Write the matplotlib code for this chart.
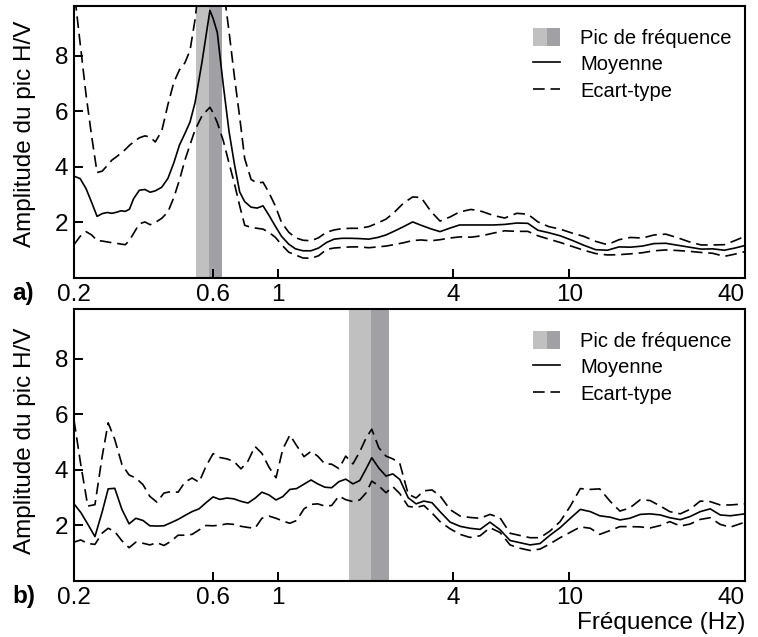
import matplotlib
matplotlib.use('Agg')
import matplotlib.pyplot as plt
from matplotlib.patches import Patch
from matplotlib.lines import Line2D
from matplotlib.legend_handler import HandlerTuple

plt.rcParams['font.family'] = ['Liberation Sans', 'DejaVu Sans']

# panel a) : frequences (Hz), moyenne et moyenne +/- ecart-type
freq_a = [0.20, 0.21, 0.22, 0.23, 0.24, 0.25, 0.26, 0.27, 0.28, 0.29,
          0.30, 0.31, 0.32, 0.335, 0.35, 0.365, 0.38, 0.40, 0.42, 0.44,
          0.46, 0.48, 0.50, 0.52, 0.55, 0.585, 0.60, 0.62, 0.65, 0.68,
          0.71, 0.74, 0.77, 0.81, 0.85, 0.89, 0.93, 0.98, 1.03, 1.09,
          1.15, 1.22, 1.30, 1.38, 1.47, 1.56, 1.66, 1.78, 1.90, 2.05,
          2.20, 2.35, 2.50, 2.70, 2.90, 3.10, 3.35, 3.60, 3.90, 4.20,
          4.60, 5.00, 5.50, 6.00, 6.60, 7.20, 7.80, 8.50, 9.30, 10.2,
          11.2, 12.3, 13.5, 14.8, 16.2, 17.8, 19.5, 21.4, 23.5, 25.8,
          28.3, 31.0, 34.0, 37.0, 40.0]
moy_a = [3.67, 3.58, 3.22, 2.72, 2.22, 2.32, 2.36, 2.33, 2.37, 2.42,
         2.40, 2.48, 2.85, 3.16, 3.19, 3.09, 3.14, 3.27, 3.59, 4.15,
         4.79, 5.20, 5.62, 6.31, 7.80, 9.64, 9.35, 8.85, 6.96, 5.30,
         4.10, 3.10, 2.75, 2.55, 2.52, 2.60, 2.28, 1.87, 1.50, 1.22,
         1.05, 0.98, 0.98, 1.08, 1.28, 1.40, 1.43, 1.43, 1.42, 1.40,
         1.46, 1.55, 1.68, 1.85, 2.02, 1.90, 1.77, 1.67, 1.80, 1.91,
         1.91, 1.91, 1.91, 1.93, 1.98, 1.97, 1.72, 1.63, 1.52, 1.36,
         1.18, 1.02, 1.00, 1.12, 1.11, 1.15, 1.24, 1.25, 1.18, 1.11,
         1.04, 1.05, 1.00, 1.08, 1.17]
sup_a = [10.4, 8.45, 6.6, 5.1, 3.8, 3.85, 4.05, 4.25, 4.37, 4.5,
         4.63, 4.78, 4.9, 5.05, 5.12, 5.08, 4.9, 5.3, 6.25, 7.05,
         7.5, 7.75, 8.2, 9.3, 11.5, 14.5, 14.5, 13.0, 10.5, 8.9,
         7.25, 5.8, 4.3, 3.55, 3.42, 3.45, 3.1, 2.6, 2.0, 1.65,
         1.45, 1.36, 1.34, 1.45, 1.65, 1.73, 1.78, 1.79, 1.79, 1.85,
         1.98, 2.12, 2.35, 2.7, 2.92, 2.9, 2.4, 2.05, 2.2, 2.38,
         2.47, 2.4, 2.25, 2.16, 2.33, 2.3, 2.02, 1.85, 1.76, 1.62,
         1.5, 1.32, 1.2, 1.38, 1.46, 1.44, 1.55, 1.58, 1.45, 1.30,
         1.19, 1.19, 1.20, 1.35, 1.50]
inf_a = [1.2, 1.5, 1.67, 1.55, 1.35, 1.33, 1.30, 1.27, 1.25, 1.22,
         1.2, 1.36, 1.6, 1.95, 2.02, 1.92, 2.0, 2.15, 2.38, 2.9,
         3.53, 4.24, 4.8, 5.33, 5.85, 6.15, 5.95, 5.6, 4.95, 4.15,
         3.4, 2.6, 1.9, 1.82, 1.79, 1.76, 1.65, 1.47, 1.2, 0.93,
         0.83, 0.72, 0.71, 0.80, 1.03, 1.08, 1.10, 1.12, 1.12, 1.09,
         1.12, 1.15, 1.2, 1.27, 1.35, 1.37, 1.34, 1.38, 1.44, 1.48,
         1.47, 1.52, 1.62, 1.70, 1.68, 1.68, 1.52, 1.40, 1.28, 1.14,
         1.0, 0.88, 0.83, 0.84, 0.87, 0.91, 0.98, 1.01, 0.99, 0.96,
         0.92, 0.89, 0.78, 0.86, 0.95]
pic_a = [0.524, 0.581, 0.642]   # debut, pic, fin

# panel b)
freq_b = [0.200, 0.211, 0.223, 0.236, 0.250, 0.262, 0.276, 0.292, 0.309, 0.326,
          0.345, 0.364, 0.385, 0.407, 0.430, 0.455, 0.480, 0.508, 0.537, 0.567,
          0.600, 0.633, 0.669, 0.707, 0.748, 0.790, 0.835, 0.882, 0.933, 0.986,
          1.04, 1.10, 1.16, 1.23, 1.30, 1.37, 1.45, 1.53, 1.62, 1.71,
          1.81, 1.91, 2.01, 2.10, 2.22, 2.35, 2.48, 2.62, 2.80, 2.98,
          3.17, 3.38, 3.60, 3.90, 4.22, 4.56, 4.94, 5.34, 5.78, 6.26,
          6.77, 7.33, 7.93, 8.58, 9.29, 10.05, 10.9, 11.8, 12.7, 13.8,
          14.9, 16.1, 17.5, 18.9, 20.5, 22.1, 24.0, 25.9, 28.1, 30.4,
          32.9, 35.6, 40.0]
moy_b = [2.78, 2.47, 2.05, 1.60, 2.5, 3.32, 3.34, 2.58, 2.06, 2.26,
         2.18, 1.99, 1.98, 1.99, 2.10, 2.22, 2.36, 2.50, 2.60, 2.82,
         3.03, 2.94, 2.99, 2.96, 2.87, 2.81, 2.98, 3.20, 3.10, 2.92,
         3.04, 3.30, 3.33, 3.49, 3.64, 3.50, 3.38, 3.36, 3.58, 3.67,
         3.50, 3.62, 4.05, 4.44, 4.07, 3.78, 3.86, 3.66, 3.0, 2.78,
         2.88, 2.82, 2.50, 2.12, 1.97, 1.90, 1.86, 2.12, 1.85, 1.46,
         1.38, 1.30, 1.35, 1.65, 1.92, 2.25, 2.58, 2.50, 2.35, 2.30,
         2.20, 2.26, 2.40, 2.42, 2.38, 2.28, 2.21, 2.32, 2.50, 2.60,
         2.38, 2.35, 2.42]
sup_b = [5.8, 4.2, 2.7, 2.75, 4.5, 5.7, 5.1, 4.2, 3.82, 3.71,
         3.47, 3.05, 2.84, 3.17, 3.22, 3.2, 3.56, 3.71, 3.56, 4.13,
         4.59, 4.45, 4.40, 4.31, 4.04, 4.32, 4.85, 4.6, 4.1, 3.72,
         4.75, 5.26, 4.88, 4.48, 4.67, 4.5, 4.22, 4.21, 4.05, 4.5,
         4.22, 4.66, 5.16, 5.47, 4.8, 4.5, 4.4, 4.24, 3.13, 2.99,
         3.25, 3.28, 3.07, 2.57, 2.34, 2.29, 2.26, 2.4, 2.28, 1.72,
         1.64, 1.56, 1.56, 1.80, 2.14, 2.68, 3.33, 3.3, 3.32, 2.87,
         2.52, 2.63, 2.93, 2.9, 2.7, 2.50, 2.42, 2.58, 2.88, 2.86,
         2.74, 2.74, 2.78]
inf_b = [1.40, 1.48, 1.35, 1.32, 1.73, 1.90, 1.78, 1.45, 1.20, 1.40,
         1.36, 1.30, 1.38, 1.28, 1.43, 1.65, 1.65, 1.68, 1.84, 2.0,
         1.99, 2.01, 2.06, 2.04, 1.97, 1.93, 1.90, 2.26, 2.34, 2.26,
         2.16, 2.08, 2.18, 2.6, 2.76, 2.78, 2.7, 2.72, 3.06, 2.93,
         2.86, 2.92, 3.18, 3.60, 3.43, 3.18, 3.40, 3.15, 2.69, 2.65,
         2.72, 2.45, 2.14, 1.88, 1.68, 1.57, 1.63, 1.92, 1.75, 1.30,
         1.18, 1.10, 1.15, 1.34, 1.56, 1.75, 1.95, 1.9, 1.68, 1.82,
         1.96, 1.96, 1.95, 1.91, 2.0, 2.14, 1.98, 2.05, 2.22, 2.28,
         2.04, 1.94, 2.12]
pic_b = [1.754, 2.09, 2.41]

xticks = [0.2, 0.6, 1, 4, 10, 40]
xticklabels = ['0.2', '0.6', '1', '4', '10', '40']
yticks = [2, 4, 6, 8]

clair = '#c0c0c0'
fonce = '#a1a0a5'
tirets = (7, 3.5)

fig = plt.figure(figsize=(7.58, 6.37), dpi=100)
ax1 = fig.add_axes([0.0976, 0.5636, 0.8852, 0.427])
ax2 = fig.add_axes([0.0976, 0.0879, 0.8852, 0.427])


def panneau(ax, f, moy, sup, inf, pic):
    ax.axvspan(pic[0], pic[1], color=clair, lw=0, zorder=0)
    ax.axvspan(pic[1], pic[2], color=fonce, lw=0, zorder=0)
    ax.plot(f, moy, color='k', lw=1.2)
    ax.plot(f, sup, color='k', lw=1.2, dashes=tirets)
    ax.plot(f, inf, color='k', lw=1.2, dashes=tirets)
    ax.set_xscale('log')
    ax.set_xlim(0.2, 40)
    ax.set_ylim(0, 9.8)
    ax.set_xticks(xticks)
    ax.set_xticklabels(xticklabels)
    ax.minorticks_off()
    ax.set_yticks(yticks)
    ax.tick_params(direction='in', length=6.5, width=1.4, labelsize=17.5, pad=4)
    ax.get_xticklabels()[-1].set_horizontalalignment('right')
    for s in ax.spines.values():
        s.set_linewidth(1.5)
    ax.set_ylabel('Amplitude du pic H/V', fontsize=17.5)
    handles = [(Patch(color=clair, lw=0), Patch(color=fonce, lw=0)),
               Line2D([], [], color='k', lw=1.2),
               Line2D([], [], color='k', lw=1.2, dashes=tirets)]
    ax.legend(handles, ['Pic de fréquence', 'Moyenne', 'Ecart-type'],
              handler_map={tuple: HandlerTuple(ndivide=None, pad=0)},
              loc='upper left', bbox_to_anchor=(0.684, 0.92), frameon=False,
              fontsize=14.5, borderpad=0, borderaxespad=0, handlelength=1.35,
              handleheight=1.0, handletextpad=1.0, labelspacing=0.33)


panneau(ax1, freq_a, moy_a, sup_a, inf_a, pic_a)
panneau(ax2, freq_b, moy_b, sup_b, inf_b, pic_b)
ax1.yaxis.set_label_coords(-0.056, 0.53)
ax2.yaxis.set_label_coords(-0.056, 0.515)

fig.text(0.9828, 1 - 629 / 637, 'Fréquence (Hz)', ha='right', va='baseline', fontsize=17.5)
fig.text(12 / 758, 1 - 300 / 637, 'a)', fontsize=17.5, fontweight='bold')
fig.text(12 / 758, 1 - 603 / 637, 'b)', fontsize=17.5, fontweight='bold')

fig.savefig('out.png', dpi=100)
